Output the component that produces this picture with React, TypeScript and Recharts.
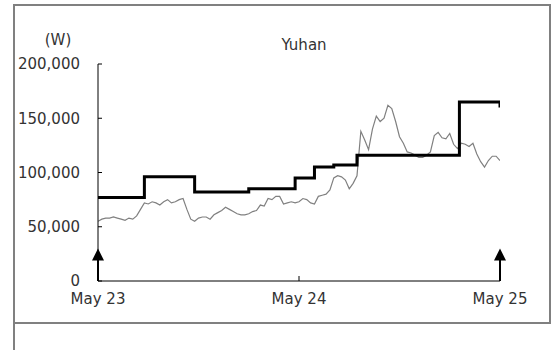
import React from 'react';
import { LineChart, Line, XAxis, YAxis, ReferenceLine } from 'recharts';

// weekly closing prices, week 0 = May 23
const prices = [
  55000, 57000, 58000, 58000, 59000, 58000, 57000, 56000, 58000, 57000,
  60000, 66000, 72000, 71000, 73000, 72000, 70000, 73000, 75000, 72000,
  73000, 75000, 76000, 66000, 57000, 55000, 58000, 59000, 59000, 57000,
  61000, 63000, 65000, 68000, 66000, 64000, 62000, 61000, 61000, 62000,
  64000, 65000, 70000, 69000, 76000, 75000, 78000, 78000, 71000, 72000,
  73000, 72000, 73000, 76000, 75000, 72000, 71000, 78000, 79000, 80000,
  84000, 95000, 97000, 96000, 93000, 85000, 90000, 97000, 138000, 130000,
  121000, 140000, 152000, 147000, 150000, 162000, 159000, 147000, 133000, 127000,
  119000, 118000, 116000, 114000, 114000, 116000, 119000, 134000, 137000, 132000,
  131000, 136000, 126000, 122000, 127000, 126000, 124000, 127000, 117000, 110000,
  105000, 111000, 115000, 115000, 111000,
];

// target price changes
const targetWeeks = [0, 12, 25, 39, 51, 56, 61, 67, 93.5, 104, 104];
const targetValues = [77000, 96000, 82000, 85000, 95000, 105000, 107000, 116000, 165000, 165000, 160000];

const yTicks = [0, 50000, 100000, 150000, 200000];
const xTicks = [0, 52, 104];
const xLabels = ['May 23', 'May 24', 'May 25'];

const priceData = prices.map((v, i) => ({ w: i, price: v }));
const targetData = targetWeeks.map((w, i) => ({ w, target: targetValues[i] }));

const FONT = '"DejaVu Sans", sans-serif';
const TEXT = '#333';

const Arrow = (p: any) => {
  const { x1, y1, x2, y2 } = p;
  return (
    <g>
      <line x1={x1} y1={y1} x2={x2} y2={y2 + 6} stroke="#000" strokeWidth={2} />
      <path d={`M${x2},${y2} L${x2 - 6},${y2 + 12} L${x2 + 6},${y2 + 12} Z`} fill="#000" />
    </g>
  );
};

export default function App() {
  return (
    <div style={{ position: 'absolute', left: 0, top: 0, width: 554, height: 350, background: '#fff', fontFamily: FONT }}>
      <div style={{ position: 'absolute', left: 13, top: 4, width: 538, height: 320, boxSizing: 'border-box', border: '2px solid #808080' }} />
      <div style={{ position: 'absolute', left: 28, top: 31, width: 60, textAlign: 'center', fontSize: 15, lineHeight: '18px', color: TEXT }}>(W)</div>
      <div style={{ position: 'absolute', left: 254, top: 36, width: 100, textAlign: 'center', fontSize: 15, lineHeight: '18px', color: TEXT }}>Yuhan</div>
      <div style={{ position: 'absolute', left: 13, top: 322, width: 2, height: 28, background: '#808080' }} />
      <LineChart width={554} height={350} margin={{ top: 64, right: 54, bottom: 39, left: 14 }} style={{ position: 'absolute', left: 0, top: 0 }}>
        <XAxis
          dataKey="w"
          type="number"
          domain={[0, 104]}
          ticks={xTicks}
          tickFormatter={(v: number) => xLabels[xTicks.indexOf(v)]}
          height={30}
          axisLine={{ stroke: '#000', strokeWidth: 1 }}
          tickLine={{ stroke: '#000' }}
          tickSize={-5}
          tickMargin={17}
          tick={{ fontSize: 15, fill: TEXT, fontFamily: FONT }}
          allowDataOverflow
        />
        <YAxis
          type="number"
          domain={[0, 200000]}
          ticks={yTicks}
          tickFormatter={(v: number) => v.toLocaleString('en-US')}
          width={84}
          axisLine={{ stroke: '#000', strokeWidth: 1 }}
          tickLine={{ stroke: '#000' }}
          tickSize={-4}
          tickMargin={22}
          tick={{ fontSize: 15, fill: TEXT, fontFamily: FONT }}
        />
        <Line data={priceData} dataKey="price" type="linear" stroke="#808080" strokeWidth={1.2} dot={false} isAnimationActive={false} />
        <Line data={targetData} dataKey="target" type="stepAfter" stroke="#000" strokeWidth={3} dot={false} isAnimationActive={false} />
        <ReferenceLine segment={[{ x: 0, y: 0 }, { x: 0, y: 30000 }]} shape={Arrow} />
        <ReferenceLine segment={[{ x: 104, y: 0 }, { x: 104, y: 30000 }]} shape={Arrow} />
      </LineChart>
    </div>
  );
}
